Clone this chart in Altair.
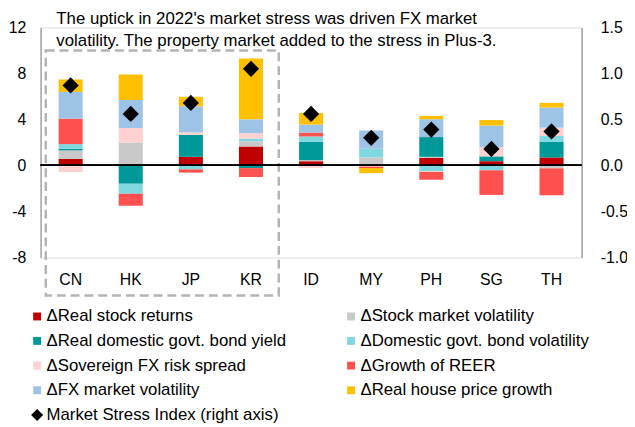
import altair as alt
import pandas as pd

FONT = "Liberation Sans"

countries = ["CN", "HK", "JP", "KR", "ID", "MY", "PH", "SG", "TH"]
components = [
    "ΔReal stock returns",
    "ΔStock market volatility",
    "ΔReal domestic govt. bond yield",
    "ΔDomestic govt. bond volatility",
    "ΔSovereign FX risk spread",
    "ΔGrowth of REER",
    "ΔFX market volatility",
    "ΔReal house price growth",
]
index_label = "Market Stress Index (right axis)"
component_colors = ["#C00000", "#C9C9C9", "#009999", "#7FD7E0",
                    "#FFD1D1", "#FF5050", "#9DC3E6", "#FFC000"]

real_stock_returns = [0.57, 0.00, 0.75, 1.65, 0.37, 0.00, 0.65, 0.37, 0.70]
stock_market_vol   = [0.74, 2.00, 0.00, 0.45, 0.10, 0.70, 0.10, 0.00, -0.25]
real_bond_yield    = [0.15, -1.60, 1.90, -0.23, 1.60, 0.00, 1.72, 0.42, 1.35]
bond_vol           = [0.40, -0.85, -0.34, 0.23, 0.45, 0.76, -0.48, -0.42, 0.51]
sovereign_spread   = [-0.57, 1.25, 0.23, 0.48, -0.20, -0.10, -0.08, 0.82, 0.73]
reer_growth        = [2.21, -1.05, -0.28, -0.77, 0.34, -0.12, -0.68, -2.14, -2.34]
fx_vol             = [2.33, 2.45, 2.27, 1.20, 0.70, 1.58, 1.55, 1.86, 1.75]
house_price        = [1.08, 2.20, 0.82, 5.30, 1.00, -0.45, 0.28, 0.48, 0.40]
stress_index       = [0.87, 0.56, 0.68, 1.05, 0.56, 0.30, 0.39, 0.18, 0.37]

left_ticks = [-8, -4, 0, 4, 8, 12]
right_ticks = [-1.0, -0.5, 0.0, 0.5, 1.0, 1.5]

title_lines = [
    "The uptick in 2022's market stress was driven FX market",
    "volatility. The property market added to the stress in Plus-3.",
]

# highlighted group (Plus-3) box, in data units
box_start = ["CN"]
box_end = ["KR"]
box_top = [10.0]
box_bottom = [-11.3]

series = [real_stock_returns, stock_market_vol, real_bond_yield, bond_vol,
          sovereign_spread, reer_growth, fx_vol, house_price]
rows = []
for k, (comp, vals) in enumerate(zip(components, series)):
    for c, v in zip(countries, vals):
        if v != 0:
            rows.append({"country": c, "component": comp, "value": v, "order": k})
bars_df = pd.DataFrame(rows)
idx_df = pd.DataFrame({"country": countries, "stress": stress_index})
box_df = pd.DataFrame({"x_start": box_start, "x_end": box_end,
                       "y_top": box_top, "y_bottom": box_bottom})

xscale = alt.Scale(domain=countries, paddingInner=0.6, paddingOuter=0.3)
yscale = alt.Scale(domain=[-8, 12], nice=False, zero=False)
y2scale = alt.Scale(domain=[-1.0, 1.5], nice=False, zero=False)

x_axis = alt.Axis(orient="bottom", domain=False, ticks=False, labelAngle=0,
                  labelPadding=14, labelFontSize=16, labelFont=FONT,
                  labelColor="black", grid=False, title=None)
left_axis = alt.Axis(orient="left", values=left_ticks, ticks=False, grid=False,
                     domainColor="#808080", domainWidth=1, labelPadding=15,
                     labelFontSize=16, labelFont=FONT, labelColor="black", title=None,
                     labelExpr="datum.value < 0 ? '-' + format(-datum.value, 'd') : format(datum.value, 'd')")
right_axis = alt.Axis(orient="right", values=right_ticks, ticks=False, grid=False,
                      domainColor="#808080", domainWidth=1, labelPadding=19,
                      labelFontSize=16, labelFont=FONT, labelColor="black", title=None,
                      labelExpr="datum.value < 0 ? '-' + format(-datum.value, '.1f') : format(datum.value, '.1f')")

is_index = f"datum.value === '{index_label}'"
legend = alt.Legend(
    title=None, orient="none", legendX=-12, legendY=284, columns=2,
    direction="horizontal",
    columnPadding=57, rowPadding=7,
    symbolType=alt.ExprRef(expr=f"{is_index} ? 'diamond' : 'square'"),
    symbolSize=alt.ExprRef(expr=f"{is_index} ? 150 : 64"),
    symbolStrokeWidth=0, labelFontSize=17, labelFont=FONT, labelColor="black",
    labelOffset=1, padding=0, labelLimit=400,
)

bars = alt.Chart(bars_df).mark_bar().encode(
    x=alt.X("country:N", scale=xscale, axis=x_axis, title=None),
    y=alt.Y("value:Q", scale=yscale, axis=left_axis, title=None, stack="zero"),
    color=alt.Color("component:N",
                    scale=alt.Scale(domain=components + [index_label],
                                    range=component_colors + ["#000000"]),
                    legend=legend),
    order=alt.Order("order:Q", sort="ascending"),
)

box = alt.Chart(box_df).mark_rect(
    filled=False, stroke="#B4B4B4", strokeWidth=2.5, strokeDash=[9, 5],
    xOffset=-13, x2Offset=16
).encode(
    x=alt.X("x_start:N", scale=xscale, axis=x_axis, title=None, bandPosition=0),
    x2=alt.X2("x_end", bandPosition=1),
    y=alt.Y("y_top:Q", scale=yscale, axis=left_axis, title=None),
    y2="y_bottom",
)

zero_line = alt.Chart(idx_df).mark_rule(color="black", strokeWidth=1.3).encode(
    y=alt.Y(datum=0, scale=yscale, axis=left_axis, title=None),
)

left = alt.layer(bars, box, zero_line)

points = alt.Chart(idx_df).mark_point(
    shape="diamond", filled=True, size=270, color="black", opacity=1
).encode(
    x=alt.X("country:N", scale=xscale, axis=x_axis, title=None),
    y=alt.Y("stress:Q", scale=y2scale, axis=right_axis, title=None),
)

chart = alt.layer(left, points).resolve_scale(y="independent").properties(
    width=548, height=233,
    padding={"left": 33, "top": 17, "right": 46, "bottom": 169},
    autosize=alt.AutoSizeParams(type="none"),
    title=alt.TitleParams(text=title_lines, anchor="start", frame="group", dx=16,
                          offset=-31, fontSize=17, fontWeight="normal", font=FONT,
                          color="black", lineHeight=22.5, orient="top"),
).configure_view(strokeWidth=0).configure(font=FONT)

chart.save("out.html", embed_options={"renderer": "svg", "actions": False})
